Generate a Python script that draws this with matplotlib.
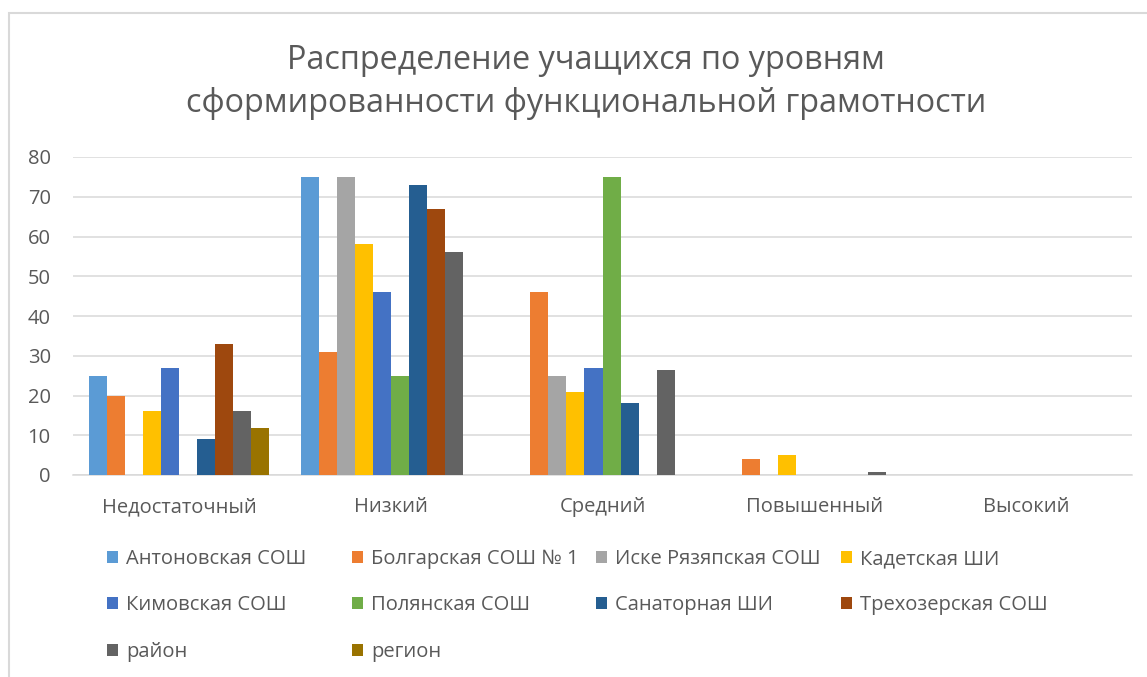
import numpy as np
import matplotlib
matplotlib.use("Agg")
import matplotlib.pyplot as plt
from matplotlib.patches import Rectangle, Patch

plt.rcParams['font.family'] = ['Open Sans', 'DejaVu Sans']

levels = ['Недостаточный', 'Низкий', 'Средний', 'Повышенный', 'Высокий']
schools = ['Антоновская СОШ', 'Болгарская СОШ № 1', 'Иске Рязяпская СОШ', 'Кадетская ШИ',
           'Кимовская СОШ', 'Полянская СОШ', 'Санаторная ШИ', 'Трехозерская СОШ',
           'район', 'регион']
colors = ['#5B9BD5', '#ED7D31', '#A5A5A5', '#FFC000', '#4472C4', '#70AD47',
          '#255E91', '#9E480E', '#636363', '#997300']

antonovskaya = [25, 75, 0, 0, 0]
bolgarskaya = [20, 31, 46, 4, 0]
iske = [0, 75, 25, 0, 0]
kadetskaya = [16, 58, 21, 5, 0]
kimovskaya = [27, 46, 27, 0, 0]
polyanskaya = [0, 25, 75, 0, 0]
sanatornaya = [9, 73, 18, 0, 0]
trehozerskaya = [33, 67, 0, 0, 0]
raion = [16.2, 56.1, 26.3, 0.8, 0]
region = [11.7, 0, 0, 0, 0]
series = [antonovskaya, bolgarskaya, iske, kadetskaya, kimovskaya,
          polyanskaya, sanatornaya, trehozerskaya, raion, region]

W, H = 1147, 677
fig = plt.figure(figsize=(W / 100, H / 100), dpi=100)
ax = fig.add_axes([73 / W, 1 - 475 / H, (1132 - 73) / W, (475 - 157) / H])

# chart frame
fig.patches.append(Rectangle((9 / W, -0.5), 2, 1.5 - 13 / H, transform=fig.transFigure,
                             fill=False, edgecolor='#d9d9d9', lw=1.5))

x = np.arange(len(levels))
bw = 0.085
n = len(series)
handles = []
for i, (vals, c) in enumerate(zip(series, colors)):
    pos = x + (i - (n - 1) / 2) * bw
    ax.bar(pos, vals, width=bw, color=c, edgecolor='none', zorder=3)
    handles.append(Patch(facecolor=c, label=schools[i]))

ax.set_xlim(-0.5, len(levels) - 0.5)
ax.set_ylim(0, 80)
ax.set_yticks(range(0, 81, 10))
ax.set_xticks(x)
ax.set_xticklabels(levels)
ax.grid(axis='y', color='#d9d9d9', lw=1.1, zorder=0)
for s in ['top', 'right', 'left']:
    ax.spines[s].set_visible(False)
ax.spines['bottom'].set_color('#d9d9d9')
ax.spines['bottom'].set_linewidth(1.1)
ax.tick_params(axis='both', length=0, colors='#595959', labelsize=14.5)
ax.tick_params(axis='y', pad=16)
ax.tick_params(axis='x', pad=16)

fig.text(586 / W, 1 - 82 / H, 'Распределение учащихся по уровням\nсформированности функциональной грамотности',
         ha='center', va='center', fontsize=23.3, color='#595959', linespacing=1.39)

# legend, row-major like the original, one legend per column
col_x = [107, 352, 596, 841]
for j in range(4):
    hs = [handles[k] for k in range(j, n, 4)]
    leg = fig.legend(handles=hs, loc='upper left', bbox_to_anchor=(col_x[j] / W, 1 - 549 / H),
                     frameon=False, fontsize=14.5, handlelength=0.55, handleheight=0.55,
                     handletextpad=0.4, labelspacing=1.31, borderpad=0, borderaxespad=0,
                     labelcolor='#595959')

fig.savefig('out.png', dpi=100)
